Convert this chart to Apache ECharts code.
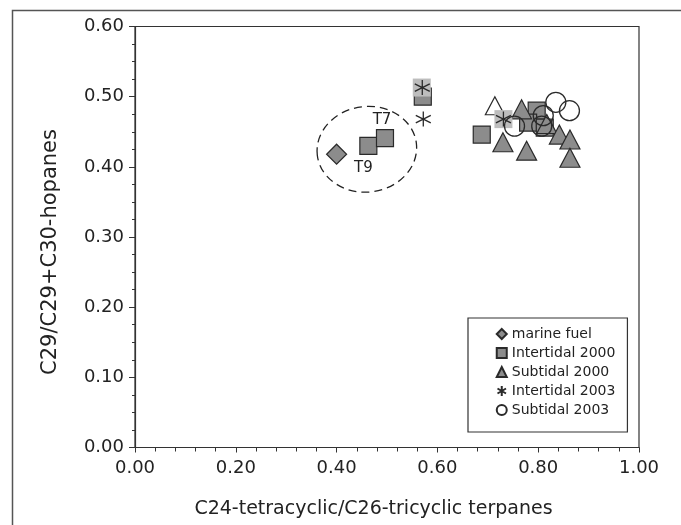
<!DOCTYPE html>
<html>
<head>
<meta charset="utf-8">
<script src="https://cdn.jsdelivr.net/npm/echarts@6/dist/echarts.min.js"></script>
<style>
html,body{margin:0;padding:0;background:#fff;}
#chart{width:681px;height:525px;}
</style>
</head>
<body>
<div id="chart"></div>
<script>
// ---- data ----
const xTitle = 'C24-tetracyclic/C26-tricyclic terpanes';
const yTitle = 'C29/C29+C30-hopanes';
const seriesNames = ['marine fuel', 'Intertidal 2000', 'Subtidal 2000', 'Intertidal 2003', 'Subtidal 2003'];

const marineFuelX = [0.400];
const marineFuelY = [0.418];

const inter2000X = [0.463, 0.496, 0.571, 0.688, 0.797, 0.780, 0.813];
const inter2000Y = [0.430, 0.441, 0.500, 0.446, 0.480, 0.463, 0.456];
const inter2000Labels = ['T9', 'T7', '', '', '', '', ''];

const sub2000X = [0.730, 0.767, 0.777, 0.817, 0.842, 0.863, 0.863];
const sub2000Y = [0.435, 0.482, 0.423, 0.461, 0.446, 0.439, 0.413];

const openTriX = [0.714];
const openTriY = [0.487];

const lightSqX = [0.569, 0.731];
const lightSqY = [0.513, 0.468];

const inter2003X = [0.570, 0.572, 0.731];
const inter2003Y = [0.513, 0.468, 0.468];

const sub2003X = [0.753, 0.810, 0.807, 0.835, 0.862];
const sub2003Y = [0.458, 0.473, 0.458, 0.492, 0.480];

// dashed ellipse around T7/T9 (data units)
const ellipseCenter = [0.460, 0.425];
const ellipseRadii = [0.099, 0.061];

const xTicks = [0, 1, 0.2];
const yTicks = [0, 0.6, 0.1];

// ---- build ----
const zip = (xs, ys) => xs.map((x, i) => [x, ys[i]]);
const FONT = 'DejaVu Sans, Liberation Sans, Arial, sans-serif';
const TXT = '#222';
const GRAY = '#8c8c8c';
const EDGE = '#2a2a2a';
const asterisk = 'path://M10,0 L10,20 M1.5,5 L18.5,15 M1.5,15 L18.5,5';

const chart = echarts.init(document.getElementById('chart'), null, {renderer: 'canvas'});

const frame = {type: 'rect', left: 10, top: 8, z: -10, silent: true,
  shape: {width: 720, height: 600}, style: {fill: 'none', stroke: '#555', lineWidth: 1.5}};

const option = {
  animation: false,
  backgroundColor: '#fff',
  grid: {left: 135, right: 42, top: 26.5, bottom: 77.5, show: true, borderColor: '#333', borderWidth: 1.2, backgroundColor: 'transparent'},
  xAxis: {
    type: 'value', min: xTicks[0], max: xTicks[1], interval: xTicks[2],
    name: xTitle, nameLocation: 'middle', nameGap: 52,
    nameTextStyle: {fontFamily: FONT, fontSize: 19, color: TXT, padding: [0, 27, 0, 0]},
    axisLine: {show: true, lineStyle: {color: '#333', width: 1.2}},
    axisTick: {show: true, length: 5, lineStyle: {color: '#333'}},
    minorTick: {show: true, splitNumber: 5, length: 4, lineStyle: {color: '#333'}},
    splitLine: {show: false},
    axisLabel: {fontFamily: FONT, fontSize: 18, color: TXT, margin: 12, formatter: v => v.toFixed(2)}
  },
  yAxis: {
    type: 'value', min: yTicks[0], max: yTicks[1], interval: yTicks[2],
    name: yTitle, nameLocation: 'middle', nameGap: 74, nameRotate: 90,
    nameTextStyle: {fontFamily: FONT, fontSize: 21, color: TXT, padding: [0, 30, 0, 0]},
    axisLine: {show: true, lineStyle: {color: '#333', width: 1.2}},
    axisTick: {show: true, length: 6, lineStyle: {color: '#333'}},
    minorTick: {show: true, splitNumber: 4, length: 3, lineStyle: {color: '#333'}},
    splitLine: {show: false},
    axisLabel: {fontFamily: FONT, fontSize: 18, color: TXT, margin: 11, formatter: v => v.toFixed(2)}
  },
  legend: {
    data: seriesNames,
    orient: 'vertical', left: 468, top: 318,
    padding: [8, 12, 14, 27],
    borderColor: '#333', borderWidth: 1.2, backgroundColor: '#fff',
    itemGap: 3, itemWidth: 10, itemHeight: 10,
    textStyle: {fontFamily: FONT, fontSize: 14, color: TXT, lineHeight: 16}
  },
  series: [
    {name: 'marine fuel', type: 'scatter', symbol: 'diamond', symbolSize: [20, 20],
     itemStyle: {color: GRAY, borderColor: EDGE, borderWidth: 1.2, opacity: 1},
     data: zip(marineFuelX, marineFuelY), z: 3},
    {name: 'Intertidal 2000', type: 'scatter', symbol: 'rect', symbolSize: 17,
     itemStyle: {color: GRAY, borderColor: EDGE, borderWidth: 1.2, opacity: 1},
     data: zip(inter2000X, inter2000Y).map((d, i) => {
       const lab = inter2000Labels[i];
       if (!lab) return d;
       return {value: d, label: {show: true, formatter: lab, position: lab === 'T7' ? 'top' : 'bottom',
         distance: lab === 'T7' ? 1 : 6, offset: lab === 'T7' ? [-3, 0] : [-5, 0],
         fontFamily: FONT, fontSize: 15, color: TXT}};
     }), z: 4},
    {name: 'openTri', type: 'scatter', symbol: 'triangle', symbolSize: [19, 18],
     itemStyle: {color: '#fff', borderColor: EDGE, borderWidth: 1.2, opacity: 1},
     data: zip(openTriX, openTriY), z: 4},
    {name: 'Subtidal 2000', type: 'scatter', symbol: 'triangle', symbolSize: [20, 19],
     itemStyle: {color: GRAY, borderColor: EDGE, borderWidth: 1.2, opacity: 1},
     data: zip(sub2000X, sub2000Y), z: 5},
    {name: 'lightSq', type: 'scatter', symbol: 'rect', symbolSize: 18,
     itemStyle: {color: '#bdbdbd', borderWidth: 0, opacity: 1},
     data: zip(lightSqX, lightSqY), z: 6},
    {name: 'Intertidal 2003', type: 'scatter', symbol: asterisk, symbolSize: 15,
     itemStyle: {color: 'none', borderColor: EDGE, borderWidth: 1.3, opacity: 1},
     data: zip(inter2003X, inter2003Y), z: 7},
    {name: 'Subtidal 2003', type: 'scatter', symbol: 'circle', symbolSize: 20,
     itemStyle: {color: 'rgba(0,0,0,0)', borderColor: EDGE, borderWidth: 1.3, opacity: 1},
     data: zip(sub2003X, sub2003Y), z: 8}
  ],
  graphic: [frame]
};
chart.setOption(option);

// ellipse placed through the chart's own scales
const c = chart.convertToPixel({gridIndex: 0}, ellipseCenter);
const ex = chart.convertToPixel({gridIndex: 0}, [ellipseCenter[0] + ellipseRadii[0], ellipseCenter[1]]);
const ey = chart.convertToPixel({gridIndex: 0}, [ellipseCenter[0], ellipseCenter[1] + ellipseRadii[1]]);
chart.setOption({
  graphic: [
    frame,
    {type: 'ellipse', x: c[0], y: c[1], rotation: 0.12, z: 2, silent: true,
     shape: {cx: 0, cy: 0, rx: Math.abs(ex[0] - c[0]), ry: Math.abs(c[1] - ey[1])},
     style: {fill: 'none', stroke: '#222', lineWidth: 1.3, lineDash: [8, 5]}}
  ]
});
</script>
</body>
</html>
